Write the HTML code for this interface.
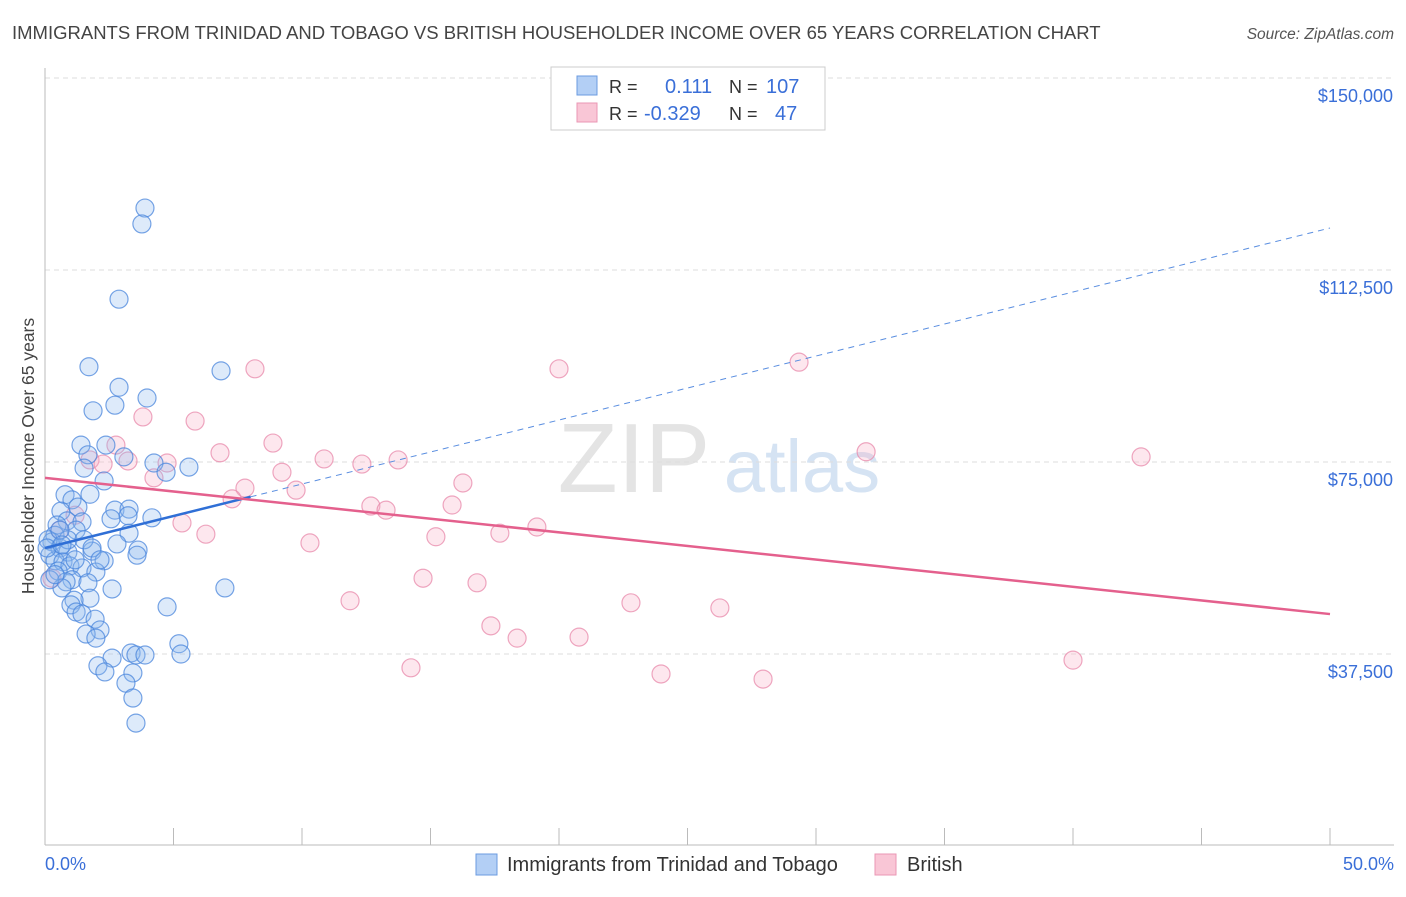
<!DOCTYPE html>
<html><head><meta charset="utf-8"><style>
body{margin:0;background:#fff;font-family:"Liberation Sans",sans-serif}
svg text{font-family:"Liberation Sans",sans-serif}
</style></head><body>
<svg id="c" width="1406" height="892">
<text x="12" y="39" font-size="18.5" fill="#444">IMMIGRANTS FROM TRINIDAD AND TOBAGO VS BRITISH HOUSEHOLDER INCOME OVER 65 YEARS CORRELATION CHART</text>
<text x="1394" y="39" font-size="15.5" fill="#555" font-style="italic" text-anchor="end">Source: ZipAtlas.com</text>
<g>
<text x="634" y="492" font-size="98" fill="#e4e4e4" font-family="Liberation Serif" text-anchor="middle">ZIP</text>
<text x="802" y="492" font-size="74" fill="#d5e3f3" text-anchor="middle">atlas</text>
</g>
<g id="grid"></g>
<g id="axes"></g>
<g id="marks"></g>
<text transform="translate(34,456) rotate(-90)" font-size="17.5" fill="#444" text-anchor="middle">Householder Income Over 65 years</text>
<g>
<rect x="551" y="67" width="274" height="63" fill="#fff" stroke="#ccc"/>
<rect x="577" y="76" width="20" height="19" fill="#b3cff5" stroke="#6b9be0"/>
<rect x="577" y="103" width="20" height="19" fill="#f9c6d6" stroke="#ea97b4"/>
<text x="609" y="93" font-size="18" fill="#333">R =</text>
<text x="665" y="93" font-size="20" fill="#3a6fd8">0.111</text>
<text x="729" y="93" font-size="18" fill="#333">N =</text>
<text x="766" y="93" font-size="20" fill="#3a6fd8">107</text>
<text x="609" y="120" font-size="18" fill="#333">R =</text>
<text x="644" y="120" font-size="20" fill="#3a6fd8">-0.329</text>
<text x="729" y="120" font-size="18" fill="#333">N =</text>
<text x="775" y="120" font-size="20" fill="#3a6fd8">47</text>
</g>
<g>
<rect x="476" y="854" width="21" height="21" fill="#b3cff5" stroke="#6b9be0"/>
<text x="507" y="871" font-size="20" fill="#333">Immigrants from Trinidad and Tobago</text>
<rect x="875" y="854" width="21" height="21" fill="#f9c6d6" stroke="#ea97b4"/>
<text x="907" y="871" font-size="20" fill="#333">British</text>
</g>
<text x="45" y="870" font-size="18" fill="#3a6fd8">0.0%</text>
<text x="1394" y="870" font-size="18" fill="#3a6fd8" text-anchor="end">50.0%</text>
</svg>
<script>
const yTicks=[37500,75000,112500,150000];
const yTickLabels=["$37,500","$75,000","$112,500","$150,000"];
const xTicks=[0,5,10,15,20,25,30,35,40,45,50];
const blueX=[3.89,3.77,2.88,1.71,6.85,2.88,3.97,2.72,1.87,1.40,2.37,1.67,3.07,4.24,5.60,1.52,4.71,2.30,0.78,1.75,1.05,0.62,1.28,2.72,3.27,3.23,2.57,4.16,0.86,1.44,0.47,0.39,1.21,0.27,0.58,1.83,0.89,3.27,2.80,3.62,3.58,2.30,0.19,0.39,0.70,0.97,0.51,1.44,1.98,1.05,1.67,0.82,0.66,2.61,7.00,1.75,1.13,1.01,1.21,1.44,1.95,4.75,2.14,1.60,1.98,5.21,5.29,3.35,3.54,3.89,2.61,2.06,2.33,3.42,3.15,3.42,3.54,0.12,0.08,0.19,0.39,0.89,1.52,1.83,0.58,2.14,0.66,1.17];
const blueY=[124.6,121.5,106.8,93.6,92.8,89.6,87.5,86.1,85.0,78.3,78.3,76.4,76.0,74.8,74.0,73.8,73.0,71.3,68.6,68.7,67.6,65.4,66.2,65.6,65.8,64.5,63.9,64.1,63.5,63.3,62.7,60.7,61.7,59.4,58.2,57.6,57.4,61.1,59.0,57.8,56.8,55.7,56.8,55.7,55.5,54.7,53.7,54.3,53.5,52.0,51.4,51.6,50.4,50.2,50.4,48.4,48.0,47.1,45.7,45.3,44.3,46.7,42.2,41.4,40.6,39.5,37.5,37.7,37.3,37.3,36.7,35.2,34.0,33.8,31.8,28.9,24.0,59.8,58.2,52.0,53.0,59.8,59.8,58.2,61.7,55.9,58.8,55.9];
const pinkX=[8.17,20.0,29.34,3.81,5.84,2.76,6.81,8.87,1.75,2.26,3.23,4.75,10.86,12.33,13.74,9.22,31.95,42.65,4.24,7.78,9.77,7.28,16.26,15.84,12.68,13.27,5.33,6.26,10.31,15.21,17.70,19.14,14.71,16.81,11.87,22.80,26.26,17.35,18.37,20.78,14.24,23.97,27.94,40.0,0.27,0.58,1.17];
const pinkY=[93.2,93.2,94.5,83.8,83.0,78.3,76.8,78.7,75.4,74.6,75.2,74.8,75.6,74.6,75.4,73.0,77.0,76.0,71.9,69.9,69.5,67.8,70.9,66.6,66.4,65.6,63.1,60.9,59.2,60.4,61.1,62.3,52.3,51.4,47.9,47.5,46.5,43.0,40.6,40.8,34.8,33.6,32.6,36.3,52.3,61.7,64.6];
const blueFit=[58.2,1.25];
const pinkFit=[71.9,-0.532];
const blueSolidEnd=8.0;

const NS="http://www.w3.org/2000/svg";
const X=p=>45+p*(1330-45)/50;
const Y=v=>654-(v-37500)/37500*192;
function mk(tag,attrs,parent){const e=document.createElementNS(NS,tag);for(const k in attrs)e.setAttribute(k,attrs[k]);parent.appendChild(e);return e;}
const grid=document.getElementById('grid'),axes=document.getElementById('axes'),marks=document.getElementById('marks');
yTicks.forEach((t,i)=>{
 const l=mk('line',{x1:45,x2:1394,y1:Y(t),y2:Y(t),stroke:'#dedede','stroke-dasharray':'5,4'},grid);
 
 
 const tx=mk('text',{x:1393,y:Y(t)+24,'font-size':18,fill:'#3a6fd8','text-anchor':'end'},grid);
 tx.textContent=yTickLabels[i];
 
 
});
const ya=mk('line',{x1:45,x2:45,y1:68,y2:845,stroke:'#bbb'},axes);


const xa=mk('line',{x1:45,x2:1394,y1:845,y2:845,stroke:'#bbb'},axes);


xTicks.forEach(t=>{
 const l=mk('line',{x1:X(t),x2:X(t),y1:828,y2:845,stroke:'#bbb'},axes);
 
 
});
function dots(xs,ys,fill,stroke,name){
 xs.forEach((x,i)=>{
  const c=mk('circle',{cx:X(x),cy:Y(ys[i]*1000),r:9,fill:fill,'fill-opacity':0.3,stroke:stroke,'stroke-width':1.2,'stroke-opacity':0.75},marks);
  
  
 });
}
dots(pinkX,pinkY,'#f7aec6','#e88aab','british-point');
dots(blueX,blueY,'#8fb8ee','#4a86dc','immigrants-point');
const fy=(f,p)=>Y((f[0]+f[1]*p)*1000);
const bs=mk('line',{x1:X(0),y1:fy(blueFit,0),x2:X(blueSolidEnd),y2:fy(blueFit,blueSolidEnd),stroke:'#2f6fd6','stroke-width':2.5},marks);


const bd=mk('line',{x1:X(blueSolidEnd),y1:fy(blueFit,blueSolidEnd),x2:X(50),y2:fy(blueFit,50),stroke:'#5a8ee0','stroke-width':1,'stroke-dasharray':'6,5'},marks);


const pl=mk('line',{x1:X(0),y1:fy(pinkFit,0),x2:X(50),y2:fy(pinkFit,50),stroke:'#e4608d','stroke-width':2.5},marks);


</script>
</body></html>
